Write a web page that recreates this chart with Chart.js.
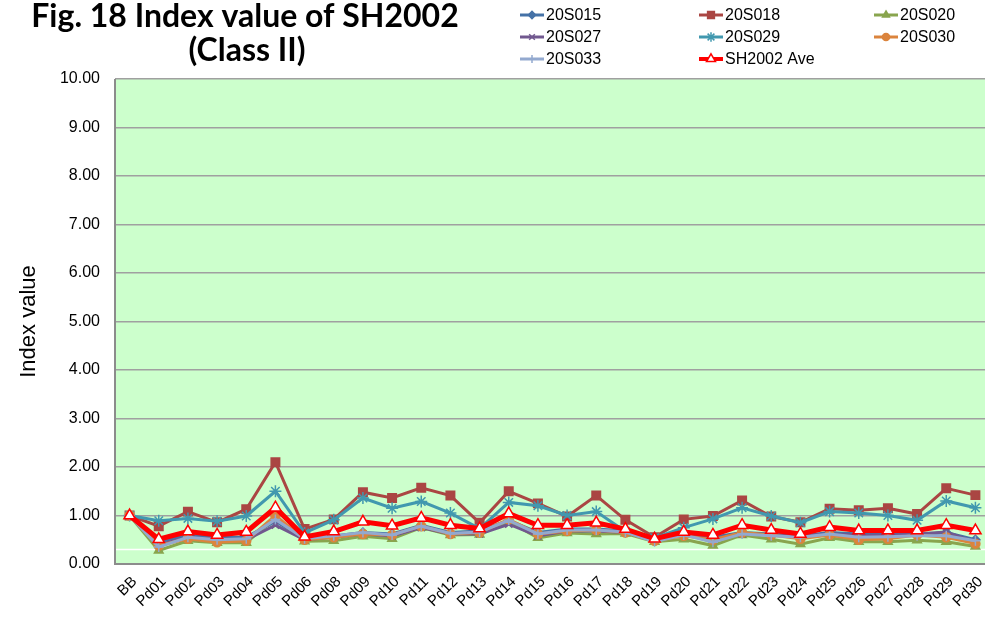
<!DOCTYPE html>
<html>
<head>
<meta charset="utf-8">
<script src="https://cdn.jsdelivr.net/npm/chart.js@4/dist/chart.umd.min.js"></script>
<style>
  html, body { margin: 0; padding: 0; background: #fff; overflow: hidden; }
  #wrap { position: relative; width: 998px; height: 621px; }
</style>
</head>
<body>
<div id="wrap"><canvas id="indexChart" width="998" height="621"></canvas></div>
<script>
// categories (no Pd07 in the source)
const labels = ["BB", "Pd01", "Pd02", "Pd03", "Pd04", "Pd05", "Pd06", "Pd08", "Pd09", "Pd10",
  "Pd11", "Pd12", "Pd13", "Pd14", "Pd15", "Pd16", "Pd17", "Pd18", "Pd19", "Pd20",
  "Pd21", "Pd22", "Pd23", "Pd24", "Pd25", "Pd26", "Pd27", "Pd28", "Pd29", "Pd30"]

const s20S015 = [1.00, 0.45, 0.60, 0.55, 0.55, 0.88, 0.52, 0.58, 0.65, 0.62,
  0.80, 0.65, 0.68, 0.90, 0.65, 0.72, 0.72, 0.68, 0.48, 0.62,
  0.55, 0.65, 0.62, 0.58, 0.65, 0.62, 0.62, 0.60, 0.65, 0.50]
const s20S018 = [1.00, 0.78, 1.08, 0.86, 1.13, 2.10, 0.72, 0.92, 1.48, 1.36,
  1.57, 1.41, 0.85, 1.50, 1.25, 0.98, 1.41, 0.91, 0.55, 0.92,
  0.99, 1.31, 0.98, 0.86, 1.14, 1.11, 1.15, 1.03, 1.56, 1.42]
const s20S020 = [1.00, 0.28, 0.48, 0.44, 0.44, 0.95, 0.47, 0.48, 0.57, 0.52,
  0.75, 0.60, 0.61, 0.88, 0.54, 0.64, 0.62, 0.63, 0.46, 0.51,
  0.38, 0.60, 0.51, 0.41, 0.54, 0.46, 0.46, 0.49, 0.46, 0.36]
const s20S027 = [1.00, 0.40, 0.55, 0.50, 0.50, 0.80, 0.50, 0.55, 0.62, 0.58,
  0.75, 0.62, 0.62, 0.82, 0.58, 0.68, 0.68, 0.65, 0.48, 0.60,
  0.52, 0.62, 0.60, 0.58, 0.62, 0.60, 0.60, 0.62, 0.66, 0.45]
const s20S029 = [1.00, 0.89, 0.94, 0.88, 0.99, 1.50, 0.64, 0.91, 1.36, 1.15,
  1.29, 1.05, 0.73, 1.27, 1.20, 1.00, 1.08, 0.67, 0.54, 0.75,
  0.93, 1.16, 0.99, 0.85, 1.08, 1.05, 1.00, 0.90, 1.30, 1.16]
const s20S030 = [1.00, 0.38, 0.52, 0.45, 0.48, 1.00, 0.50, 0.55, 0.62, 0.60,
  0.78, 0.62, 0.65, 0.92, 0.62, 0.68, 0.70, 0.65, 0.48, 0.58,
  0.50, 0.65, 0.60, 0.52, 0.60, 0.50, 0.52, 0.60, 0.55, 0.42]
const s20S033 = [1.00, 0.35, 0.55, 0.50, 0.52, 0.92, 0.52, 0.58, 0.65, 0.60,
  0.78, 0.63, 0.66, 0.90, 0.62, 0.70, 0.70, 0.66, 0.46, 0.60,
  0.45, 0.62, 0.58, 0.55, 0.62, 0.55, 0.56, 0.58, 0.58, 0.48]
const sAve = [1.00, 0.51, 0.67, 0.60, 0.66, 1.16, 0.56, 0.67, 0.87, 0.79,
  0.95, 0.80, 0.73, 1.04, 0.80, 0.80, 0.85, 0.72, 0.52, 0.66,
  0.60, 0.80, 0.70, 0.62, 0.76, 0.69, 0.69, 0.69, 0.80, 0.69]

const yTicks = [0, 1, 2, 3, 4, 5, 6, 7, 8, 9, 10]
const refLine = 0.3

const series = [
  { name: "20S015", data: s20S015, color: "#4572A7", style: "rectRot", r: 4.5 },
  { name: "20S018", data: s20S018, color: "#AA4643", style: "rect", r: 6 },
  { name: "20S020", data: s20S020, color: "#89A54E", style: "triangle", r: 5 },
  { name: "20S027", data: s20S027, color: "#71588F", style: "crossRot", r: 5 },
  { name: "20S029", data: s20S029, color: "#4198AF", style: "star", r: 6 },
  { name: "20S030", data: s20S030, color: "#DB843D", style: "circle", r: 4.5 },
  { name: "20S033", data: s20S033, color: "#93A9CF", style: "cross", r: 5 },
  { name: "SH2002 Ave", data: sAve, color: "#FF0000", style: "triangle", r: 6.5, ave: true },
]

const plotBg = {
  id: "plotBg",
  beforeDraw(chart) {
    const { ctx, chartArea: a } = chart
    ctx.save()
    ctx.fillStyle = "#CCFFCC"
    ctx.fillRect(a.left, a.top, a.right - a.left, a.bottom - a.top)
    ctx.restore()
  },
  beforeDatasetsDraw(chart) {
    const { ctx, chartArea: a, scales } = chart
    const y = scales.y.getPixelForValue(refLine)
    ctx.save()
    ctx.strokeStyle = "#FFFFFF"
    ctx.lineWidth = 1.5
    ctx.beginPath()
    ctx.moveTo(a.left, y)
    ctx.lineTo(a.right, y)
    ctx.stroke()
    // axis lines
    ctx.strokeStyle = "#8C8C8C"
    ctx.lineWidth = 2
    ctx.beginPath()
    ctx.moveTo(a.left, a.top)
    ctx.lineTo(a.left, a.bottom)
    ctx.lineTo(a.right, a.bottom)
    ctx.stroke()
    ctx.restore()
  },
}

const titleLegend = {
  id: "titleLegend",
  afterDraw(chart) {
    const ctx = chart.ctx
    ctx.save()
    ctx.fillStyle = "#000"
    ctx.textAlign = "center"
    ctx.textBaseline = "middle"
    ctx.font = "bold 32px Lato, 'Open Sans', sans-serif"
    ctx.fillText("Fig. 18 Index value of SH2002", 245, 17)
    ctx.fillText("(Class II)", 247, 51)

    const cols = [546, 725, 900]
    const rows = [15, 37, 59]
    ctx.font = "16px 'Liberation Sans', Arial, sans-serif"
    ctx.textAlign = "left"
    series.forEach((s, i) => {
      const tx = cols[i % 3]
      const ty = rows[Math.floor(i / 3)]
      ctx.strokeStyle = s.color
      ctx.lineWidth = s.ave ? 4 : 3
      ctx.beginPath()
      ctx.moveTo(tx - 26, ty)
      ctx.lineTo(tx - 2, ty)
      ctx.stroke()
      ctx.lineWidth = 1.5
      ctx.fillStyle = s.ave ? "#FFFFFF" : s.color
      Chart.helpers.drawPoint(ctx, { pointStyle: s.style, radius: s.r * 0.8, borderWidth: 1.5 }, tx - 14, ty)
      ctx.fillStyle = "#000"
      ctx.fillText(s.name, tx, ty + 1)
    })
    ctx.restore()
  },
}

const datasets = series.map((s, i) => ({
  label: s.name,
  data: s.data,
  borderColor: s.color,
  backgroundColor: s.ave ? "#FFFFFF" : s.color,
  borderWidth: s.ave ? 5 : 3,
  pointStyle: s.style,
  pointRadius: s.r,
  pointBorderColor: s.color,
  pointBackgroundColor: s.ave ? "#FFFFFF" : s.color,
  pointBorderWidth: 1.5,
  tension: 0,
  order: series.length - 1 - i,
}))

new Chart(document.getElementById("indexChart"), {
  type: "line",
  data: { labels: labels, datasets: datasets },
  plugins: [plotBg, titleLegend],
  options: {
    responsive: false,
    animation: false,
    layout: { padding: { top: 79, right: 0, bottom: 0, left: 0 } },
    plugins: {
      legend: { display: false },
      tooltip: { enabled: false },
    },
    scales: {
      x: {
        offset: true,
        afterFit(scale) { scale.height = 57 },
        grid: { display: false, drawTicks: false },
        border: { display: false },
        ticks: {
          minRotation: 45,
          maxRotation: 45,
          autoSkip: false,
          padding: 9,
          labelOffset: 5,
          color: "#000",
          font: { family: "'Liberation Sans', Arial, sans-serif", size: 15 },
        },
      },
      y: {
        min: 0,
        max: 10,
        afterFit(scale) { scale.width = 115 },
        afterBuildTicks(scale) { scale.ticks = yTicks.map((v) => ({ value: v })) },
        grid: { color: "#A0A0A0", lineWidth: 1.5, drawTicks: false },
        border: { display: false },
        title: {
          display: true,
          text: "Index value",
          color: "#000",
          font: { family: "'Liberation Sans', Arial, sans-serif", size: 22 },
          padding: { top: 16, bottom: 0 },
        },
        ticks: {
          padding: 15,
          color: "#000",
          font: { family: "'Liberation Sans', Arial, sans-serif", size: 16 },
          callback: (v) => Number(v).toFixed(2),
        },
      },
    },
  },
})
</script>
</body>
</html>
